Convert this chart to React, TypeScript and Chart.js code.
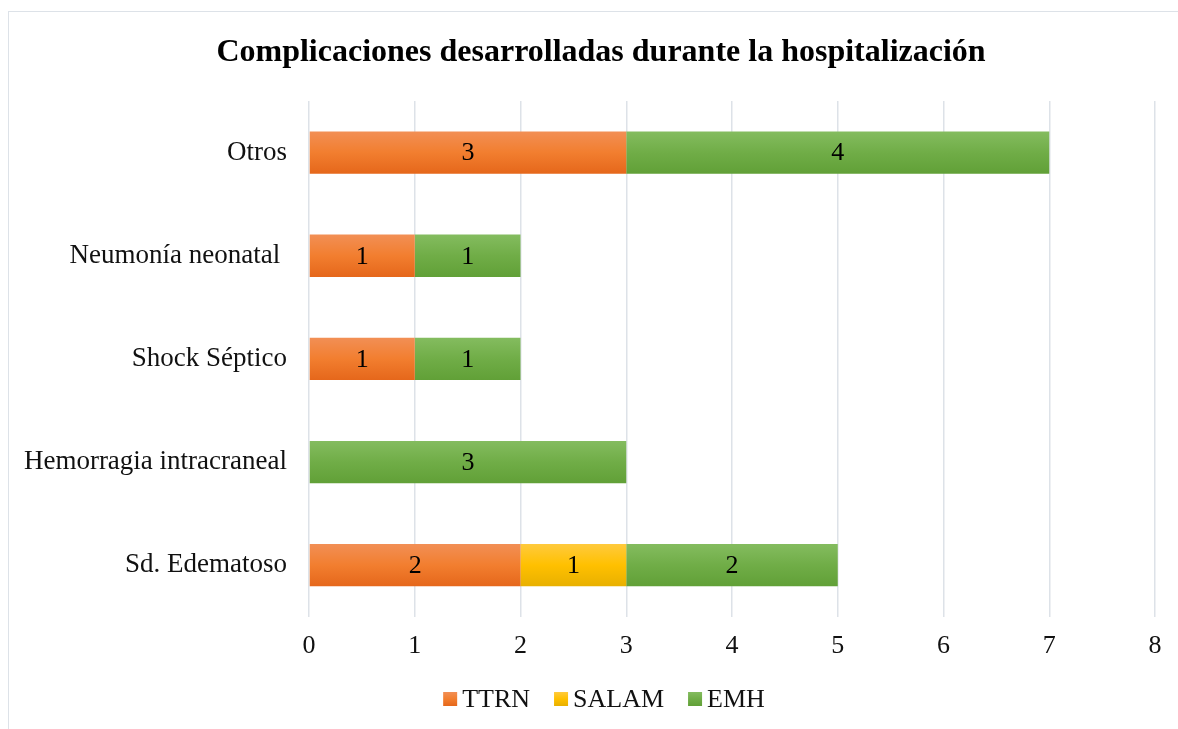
import React, { useEffect, useRef } from "react";
import { Chart, registerables } from "chart.js";

Chart.register(...registerables);

const TITLE = "Complicaciones desarrolladas durante la hospitalización";
const categories = ["Otros", "Neumonía neonatal ", "Shock Séptico", "Hemorragia intracraneal", "Sd. Edematoso"];
const seriesNames = ["TTRN", "SALAM", "EMH"];
const ttrn = [3, 1, 1, 0, 2];
const salam = [0, 0, 0, 0, 1];
const emh = [4, 1, 1, 3, 2];
const xTicks = [0, 1, 2, 3, 4, 5, 6, 7, 8];

const FONT = "'Times New Roman', 'Liberation Serif', serif";
const FS = 26;

const palettes = [
  { top: "#f28f55", mid: "#f27e2f", bot: "#e5671b" },
  { top: "#ffca3d", mid: "#ffc000", bot: "#e8b000" },
  { top: "#84bc5f", mid: "#70ad47", bot: "#61a037" },
];

function gradientFor(idx: number) {
  return (ctx: any) => {
    const p = palettes[idx];
    if (ctx.type !== "data") return p.mid;
    const chart = ctx.chart;
    const y = chart.scales && chart.scales.y;
    if (!y || !chart.chartArea) return p.mid;
    const c = y.getPixelForValue(ctx.dataIndex);
    const h = (y.height / categories.length) * 0.41;
    const g = chart.ctx.createLinearGradient(0, c - h / 2, 0, c + h / 2);
    g.addColorStop(0, p.top);
    g.addColorStop(0.5, p.mid);
    g.addColorStop(1, p.bot);
    return g;
  };
}

const borderPlugin = {
  id: "outerBorder",
  beforeDraw(chart: any) {
    const c = chart.ctx;
    c.save();
    c.fillStyle = "#ffffff";
    c.fillRect(0, 0, chart.width, chart.height);
    c.strokeStyle = "#dde2e8";
    c.lineWidth = 1;
    c.strokeRect(8.5, 11.5, chart.width + 20, chart.height + 20);
    c.restore();
  },
};

const titlePlugin = {
  id: "customTitle",
  afterDraw(chart: any) {
    const c = chart.ctx;
    c.save();
    c.font = `bold 32px ${FONT}`;
    c.fillStyle = "#000";
    c.textAlign = "center";
    c.textBaseline = "middle";
    c.fillText(TITLE, 601, 53.2);
    c.restore();
  },
};

const valueLabels = {
  id: "valueLabels",
  afterDatasetsDraw(chart: any) {
    const c = chart.ctx;
    c.save();
    c.font = `${FS}px ${FONT}`;
    c.fillStyle = "#000000";
    c.textAlign = "center";
    c.textBaseline = "middle";
    chart.data.datasets.forEach((ds: any, di: number) => {
      const meta = chart.getDatasetMeta(di);
      meta.data.forEach((el: any, i: number) => {
        const v = ds.data[i];
        if (!v) return;
        c.fillText(String(v), (el.x + el.base) / 2, el.y + 1);
      });
    });
    c.restore();
  },
};

const customLegend = {
  id: "customLegend",
  afterDraw(chart: any) {
    const c = chart.ctx;
    c.save();
    c.font = `${FS}px ${FONT}`;
    const box = 14;
    const gapText = 5;
    const gapItem = 24;
    const widths = seriesNames.map((n) => c.measureText(n).width);
    const total = widths.reduce((a, w) => a + box + gapText + w, 0) + gapItem * (seriesNames.length - 1);
    let x = 604 - total / 2;
    const cy = 699;
    c.textBaseline = "middle";
    c.textAlign = "left";
    seriesNames.forEach((n, i) => {
      const p = palettes[i];
      const g = c.createLinearGradient(0, cy - box / 2, 0, cy + box / 2);
      g.addColorStop(0, p.top);
      g.addColorStop(0.5, p.mid);
      g.addColorStop(1, p.bot);
      c.fillStyle = g;
      c.fillRect(x, cy - box / 2, box, box);
      x += box + gapText;
      c.fillStyle = "#111";
      c.fillText(n, x, cy + 1);
      x += widths[i] + gapItem;
    });
    c.restore();
  },
};

export default function App() {
  const ref = useRef<HTMLCanvasElement>(null);
  useEffect(() => {
    const chart = new Chart(ref.current!, {
      type: "bar",
      data: {
        labels: categories,
        datasets: [ttrn, salam, emh].map((d, i) => ({
          label: seriesNames[i],
          data: d,
          backgroundColor: gradientFor(i) as any,
          borderWidth: 0,
          categoryPercentage: 1,
          barPercentage: 0.41,
        })),
      },
      options: {
        indexAxis: "y",
        animation: false,
        responsive: false,
        layout: { padding: { left: 20, right: 23, top: 101, bottom: 67 } },
        scales: {
          x: {
            stacked: true,
            min: 0,
            max: 8,
            afterBuildTicks: (s: any) => {
              s.ticks = xTicks.map((v) => ({ value: v }));
            },
            afterFit: (s: any) => {
              s.height = 14 + FS * 1.2;
            },
            ticks: { stepSize: 1, color: "#111", font: { family: FONT, size: FS }, padding: 14 },
            grid: { color: "#dde2e8", lineWidth: 1.5, drawTicks: false },
            border: { display: false },
          },
          y: {
            stacked: true,
            afterFit: (s: any) => {
              s.width = 289;
            },
            ticks: { color: "#111", font: { family: FONT, size: 27 }, padding: 22 },
            grid: { display: false, drawTicks: false },
            border: { display: false },
          },
        },
        plugins: {
          title: { display: false },
          legend: { display: false },
          tooltip: { enabled: false },
        },
      },
      plugins: [borderPlugin, valueLabels, customLegend, titlePlugin],
    });
    return () => chart.destroy();
  }, []);
  return (
    <div style={{ position: "fixed", left: 0, top: 0, width: 1178, height: 729 }}>
      <canvas ref={ref} width={1178} height={729} style={{ width: 1178, height: 729, display: "block" }} />
    </div>
  );
}
